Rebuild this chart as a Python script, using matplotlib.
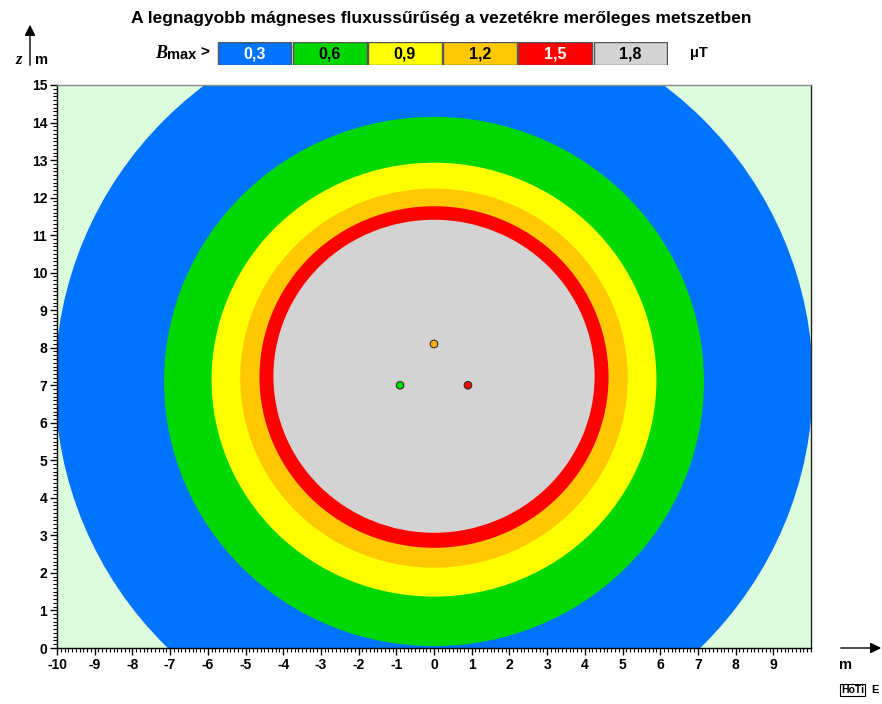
import matplotlib.pyplot as plt
from matplotlib.patches import Ellipse, Rectangle, FancyArrowPatch
from matplotlib.ticker import MultipleLocator

plt.rcParams['font.family'] = ['Liberation Sans', 'DejaVu Sans']

# szintek (uT) es szinek
levels = [0.3, 0.6, 0.9, 1.2, 1.5, 1.8]
level_labels = ['0,3', '0,6', '0,9', '1,2', '1,5', '1,8']
level_colors = ['#0073ff', '#00d800', '#ffff00', '#ffc800', '#ff0000', '#d3d3d3']
label_colors = ['white', 'black', 'black', 'black', 'white', 'black']
background = '#ddfcdd'

# a szintvonalak (ellipszis kozeppont z, fel-szelesseg, fel-magassag) a kepbol olvasva
ring_zc = [7.08, 7.10, 7.15, 7.19, 7.22, 7.24]
ring_a = [10.05, 7.16, 5.90, 5.14, 4.63, 4.26]
ring_b = [9.95, 7.05, 5.78, 5.05, 4.55, 4.17]

# vezetok
wire_x = [-0.9, 0.9, 0.0]
wire_z = [7.0, 7.0, 8.1]
wire_colors = ['#00e000', '#ff0000', '#ffb000']

fig = plt.figure(figsize=(8.82, 7.04), dpi=100)
ax = fig.add_axes([57/882, 56/704, 754/882, 563/704])
ax.set_facecolor(background)
ax.set_xlim(-10, 10)
ax.set_ylim(0, 15)

for zc, a, b, c in zip(ring_zc, ring_a, ring_b, level_colors):
    ax.add_patch(Ellipse((0, zc), 2*a, 2*b, facecolor=c, edgecolor='none'))

ax.scatter(wire_x, wire_z, s=30, c=wire_colors, edgecolors='#333333', linewidths=0.8, zorder=5)

ax.xaxis.set_major_locator(MultipleLocator(1))
ax.xaxis.set_minor_locator(MultipleLocator(0.1))
ax.yaxis.set_major_locator(MultipleLocator(1))
ax.yaxis.set_minor_locator(MultipleLocator(0.1))
ax.tick_params(which='major', length=5, width=1, direction='out', labelsize=10, pad=2)
ax.tick_params(which='minor', length=3, width=0.8, direction='out')
ax.set_xticks(range(-10, 10))
ax.set_xticklabels([str(i) for i in range(-10, 10)], fontweight='bold')
ax.set_yticks(range(0, 16))
ax.set_yticklabels([str(i) for i in range(0, 16)], fontweight='bold')
ax.spines['top'].set_color('#888888')
ax.spines['right'].set_color('#222222')
for s in ax.spines.values():
    s.set_linewidth(1)

fig.text(0.5, 1 - 18/704, 'A legnagyobb mágneses fluxussűrűség a vezetékre merőleges metszetben',
         ha='center', va='center', fontsize=12.5, fontweight='bold')

# jelmagyarazat
leg = fig.add_axes([217/882, 1 - 65/704, 451/882, 23/704])
leg.set_xlim(0, len(levels))
leg.set_ylim(0, 1)
leg.axis('off')
for i, (lab, c, tc) in enumerate(zip(level_labels, level_colors, label_colors)):
    leg.add_patch(Rectangle((i + 0.01, 0.02), 0.98, 0.96, facecolor=c, edgecolor='#555555', linewidth=1))
    leg.text(i + 0.5, 0.48, lab, ha='center', va='center', color=tc, fontsize=11.5, fontweight='bold')

fig.text(161/882, 1 - 53/704, 'B', fontsize=13, fontweight='bold', style='italic',
         family='Liberation Serif', ha='center', va='center')
fig.text(182/882, 1 - 55/704, 'max', fontsize=10.5, fontweight='bold', ha='center', va='center')
fig.text(205/882, 1 - 53/704, '>', fontsize=11, fontweight='bold', ha='center', va='center')
fig.text(699/882, 1 - 53/704, 'μT', fontsize=10.5, fontweight='bold', ha='center', va='center')

# tengely nyilak
fig.patches.append(FancyArrowPatch((30/882, 1 - 68/704), (30/882, 1 - 22/704), transform=fig.transFigure,
                                   arrowstyle='-|>', mutation_scale=16, color='black', linewidth=1))
fig.text(19/882, 1 - 60/704, 'z', fontsize=12, fontweight='bold', style='italic',
         family='Liberation Serif', ha='center', va='center')
fig.text(42/882, 1 - 60/704, 'm', fontsize=10.5, fontweight='bold', ha='center', va='center')
fig.patches.append(FancyArrowPatch((838/882, 1 - 648/704), (884/882, 1 - 648/704), transform=fig.transFigure,
                                   arrowstyle='-|>', mutation_scale=16, color='black', linewidth=1))
fig.text(846/882, 1 - 665/704, 'm', fontsize=10.5, fontweight='bold', ha='center', va='center')
fig.text(841/882, 1 - 690/704, 'HoTi', fontsize=7.5, fontweight='bold', ha='left', va='center',
         bbox=dict(boxstyle='square,pad=0.1', facecolor='white', edgecolor='black', linewidth=0.8))
fig.text(871/882, 1 - 690/704, 'E', fontsize=8, fontweight='bold', ha='left', va='center')

fig.savefig('out.png', dpi=100)
